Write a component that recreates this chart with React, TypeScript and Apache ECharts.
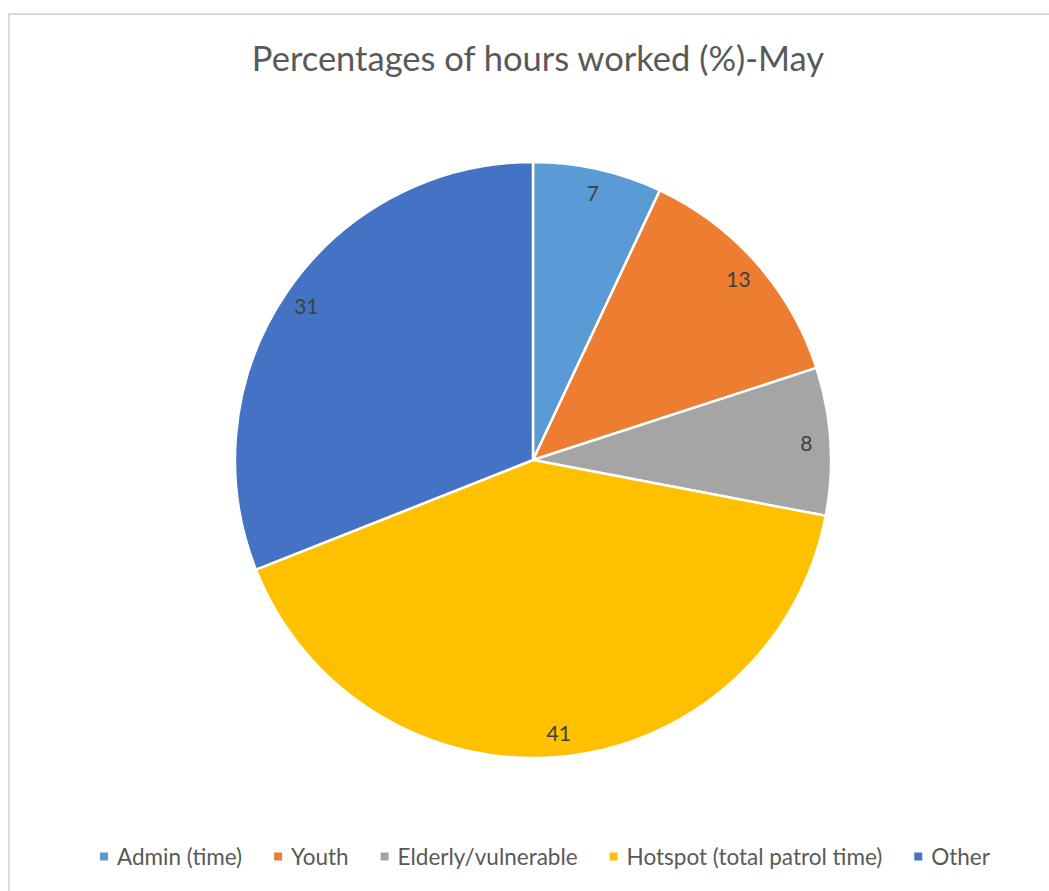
import React, { useEffect, useRef } from "react";
import * as echarts from "echarts";

const categories = ["Admin (time)", "Youth", "Elderly/vulnerable", "Hotspot (total patrol time)", "Other"];
const values = [7, 13, 8, 41, 31];
const colors = ["#5B9BD5", "#ED7D31", "#A5A5A5", "#FFC000", "#4472C4"];
const titleText = "Percentages of hours worked (%)-May";

export default function App() {
  const ref = useRef<HTMLDivElement>(null);
  useEffect(() => {
    if (!ref.current) return;
    const chart = echarts.init(ref.current, null, { renderer: "svg" });
    const data = categories.map((name, i) => ({ name, value: values[i], itemStyle: { color: colors[i] } }));
    const font = "Lato, 'Noto Sans', sans-serif";
    chart.setOption({
      animation: false,
      backgroundColor: "#ffffff",
      graphic: [
        {
          type: "rect",
          shape: { x: 9, y: 14, width: 1100, height: 1000 },
          style: { fill: "none", stroke: "#D9D9D9", lineWidth: 2 },
          silent: true,
        },
      ],
      title: {
        text: titleText,
        left: 533,
        textAlign: "center",
        top: 35,
        textStyle: { fontFamily: font, fontSize: 34.5, fontWeight: "normal", color: "#595959" },
      },
      legend: {
        bottom: 18,
        left: 93,
        icon: "rect",
        itemWidth: 10,
        itemHeight: 10,
        itemGap: 30,
        textStyle: { fontFamily: font, fontSize: 22.5, color: "#595959", padding: [0, 0, 0, 3] },
        data: categories,
      },
      series: [
        {
          type: "pie",
          center: [533, 460],
          radius: [0, 298],
          startAngle: 90,
          clockwise: true,
          itemStyle: { borderColor: "#ffffff", borderWidth: 2.5 },
          label: { show: false },
          labelLine: { show: false },
          data,
          silent: true,
        },
        {
          type: "pie",
          center: [533, 460],
          radius: [244, 298],
          startAngle: 90,
          clockwise: true,
          itemStyle: { color: "transparent", borderWidth: 0 },
          label: {
            show: true,
            position: "inside",
            formatter: "{c}",
            fontFamily: font,
            fontSize: 21,
            color: "#404040",
          },
          labelLine: { show: false },
          data: categories.map((name, i) => ({ name, value: values[i], itemStyle: { color: "transparent" } })),
          silent: true,
        },
      ],
    });
    return () => chart.dispose();
  }, []);
  return <div ref={ref} style={{ position: "absolute", left: 0, top: 0, width: 1049, height: 891 }} />;
}
